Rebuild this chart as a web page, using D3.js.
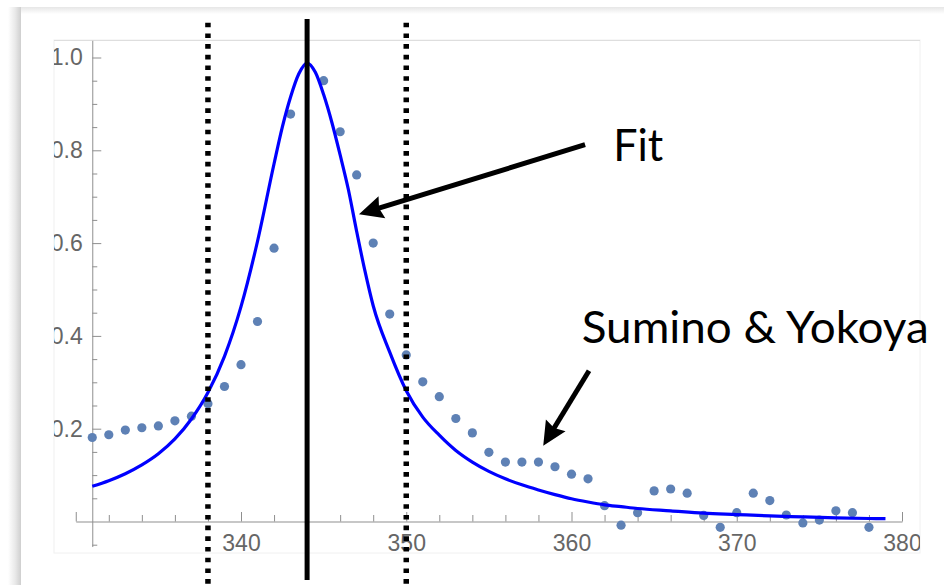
<!DOCTYPE html>
<html>
<head>
<meta charset="utf-8">
<script src="https://cdn.jsdelivr.net/npm/d3@7"></script>
<style>
  html, body { margin: 0; padding: 0; background: #ffffff; }
  svg { display: block; }
</style>
</head>
<body>
<svg id="chart" width="944" height="585"></svg>
<script>
// Measured absorbance points (Sumino & Yokoya), wavelength in nm
const dataX = [331,332,333,334,335,336,337,338,339,340,341,342,343,
  345,346,347,348,349,350,351,352,353,354,355,356,357,358,359,360,361,362,
  363,364,365,366,367,368,369,370,371,372,373,374,375,376,377,378];
const dataY = [0.181,0.187,0.197,0.202,0.206,0.217,0.227,0.254,0.291,0.338,0.431,0.589,0.878,
  0.950,0.840,0.747,0.600,0.447,0.359,0.301,0.269,0.222,0.191,0.149,0.128,0.128,0.128,0.118,0.102,0.092,0.034,
  -0.008,0.019,0.066,0.070,0.061,0.013,-0.0125,0.019,0.061,0.045,0.014,-0.003,0.003,0.023,0.019,-0.0125];

// Fitted peak profile
const fitX = [331,332,333,334,335,336,337,338,339,340,341,342,
  342.5,343,343.5,344,344.5,345,345.5,346,346.5,347,347.5,348,
  349,350,351,352,353,354,355,356,357,358,359,360,361,362,363,364,
  366,368,370,372,374,376,378,379];
const fitY = [0.076,0.088,0.103,0.122,0.146,0.178,0.221,0.278,0.356,0.463,0.604,0.771,
  0.85,0.915,0.965,0.988,0.968,0.92,0.86,0.79,0.715,0.625,0.54,0.465,
  0.365,0.282,0.225,0.186,0.153,0.128,0.108,0.092,0.079,0.068,0.058,0.049,0.042,0.036,0.032,0.028,
  0.023,0.018,0.015,0.012,0.010,0.008,0.0065,0.006];

// Peak centre and window markers
const centreLine = [344];
const windowLines = [338, 350];

// Tick values
const xMajorTicks = [330, 340, 350, 360, 370, 380];
const xMinorTicks = [332,334,336,338,342,344,346,348,352,354,356,358,362,364,366,368,372,374,376,378];
const yMajorTicks = [0.2, 0.4, 0.6, 0.8, 1.0];
const yMinorTicks = [-0.05,0.05,0.1,0.15,0.25,0.3,0.35,0.45,0.5,0.55,0.65,0.7,0.75,0.85,0.9,0.95];

// Callouts: label, label anchor, arrow tail, arrow tip (data units)
const calloutLabels = ["Fit", "Sumino & Yokoya"];
const calloutText = [[362.53, 0.7765], [360.62, 0.384]];
const calloutTail = [[360.82, 0.812], [361.06, 0.325]];
const calloutTip = [[347.14, 0.662], [358.29, 0.163]];
const calloutWidth = [50, 347];

const svg = d3.select("#chart");
const W = 944, H = 585;

// ---- slide panel with soft shadow on the top/left edge ----
const defs = svg.append("defs");
const gl = defs.append("linearGradient").attr("id", "shadowLeft").attr("x1", 0).attr("x2", 1).attr("y1", 0).attr("y2", 0);
gl.append("stop").attr("offset", "0%").attr("stop-color", "#ffffff");
gl.append("stop").attr("offset", "55%").attr("stop-color", "#e9e9e9");
gl.append("stop").attr("offset", "100%").attr("stop-color", "#cfcfcf");
const gt = defs.append("linearGradient").attr("id", "shadowTop").attr("x1", 0).attr("x2", 0).attr("y1", 0).attr("y2", 1);
gt.append("stop").attr("offset", "0%").attr("stop-color", "#e6e6e6");
gt.append("stop").attr("offset", "100%").attr("stop-color", "#ffffff");

svg.append("rect").attr("x", 0).attr("y", 0).attr("width", W).attr("height", H).attr("fill", "#ffffff");
svg.append("rect").attr("x", 8).attr("y", 7).attr("width", 13).attr("height", H - 7).attr("fill", "url(#shadowLeft)");
svg.append("rect").attr("x", 21).attr("y", 7).attr("width", W - 21).attr("height", 7).attr("fill", "url(#shadowTop)");

// ---- plot frame ----
const frame = { x0: 54, y0: 40, x1: 920, y1: 553 };
svg.append("rect")
  .attr("x", frame.x0).attr("y", frame.y0)
  .attr("width", frame.x1 - frame.x0).attr("height", frame.y1 - frame.y0)
  .attr("fill", "none").attr("stroke", "#f0f0f0").attr("stroke-width", 1);
svg.append("line")
  .attr("x1", frame.x0).attr("x2", frame.x1).attr("y1", frame.y0 + 0.5).attr("y2", frame.y0 + 0.5)
  .attr("stroke", "#dedede").attr("stroke-width", 1);

defs.append("clipPath").attr("id", "frameClip")
  .append("rect").attr("x", frame.x0).attr("y", frame.y0)
  .attr("width", frame.x1 - frame.x0).attr("height", frame.y1 - frame.y0);

// ---- scales ----
const x = d3.scaleLinear().domain([340, 380]).range([241, 902]);
const y = d3.scaleLinear().domain([0, 1]).range([521.5, 57.5]);

const axisColor = "#8f8f8f";
const labelColor = "#666666";
const tickFont = "'Liberation Sans', Arial, Helvetica, sans-serif";

const axes = svg.append("g").attr("clip-path", "url(#frameClip)");

// x axis (ticks point inward/up)
const xAxisScale = x.copy().domain([330, 380]).range([x(330), x(380)]);
const xMajor = axes.append("g")
  .attr("transform", `translate(0,${y(0)})`)
  .call(d3.axisBottom(xAxisScale)
    .tickValues(xMajorTicks)
    .tickSizeInner(-9.5).tickSizeOuter(0).tickPadding(13.5)
    .tickFormat(d => d === 330 ? "" : d3.format("d")(d)));
const xMinor = axes.append("g")
  .attr("transform", `translate(0,${y(0)})`)
  .call(d3.axisBottom(xAxisScale)
    .tickValues(xMinorTicks)
    .tickSizeInner(-6.5).tickSizeOuter(0).tickFormat(""));

// y axis, crossing at the first sample wavelength
const yAxisScale = y.copy().domain([-0.054, 1.037]).range([y(-0.054), y(1.037)]);
const yMajor = axes.append("g")
  .attr("transform", `translate(${x(331)},0)`)
  .call(d3.axisLeft(yAxisScale)
    .tickValues(yMajorTicks)
    .tickSizeInner(-9).tickSizeOuter(0).tickPadding(9.5)
    .tickFormat(d3.format(".1f")));
const yMinor = axes.append("g")
  .attr("transform", `translate(${x(331)},0)`)
  .call(d3.axisLeft(yAxisScale)
    .tickValues(yMinorTicks)
    .tickSizeInner(-5).tickSizeOuter(0).tickFormat(""));

[xMajor, xMinor, yMajor, yMinor].forEach(g => {
  g.select(".domain").attr("stroke", axisColor).attr("stroke-width", 1);
  g.selectAll(".tick line").attr("stroke", axisColor).attr("stroke-width", 1);
  g.selectAll(".tick text")
    .attr("fill", labelColor)
    .style("font-family", tickFont)
    .style("font-size", "23px");
});
xMinor.select(".domain").remove();
yMinor.select(".domain").remove();

// ---- measured points ----
const points = dataX.map((d, i) => ({ x: d, y: dataY[i] }));
svg.append("g").selectAll("circle")
  .data(points)
  .join("circle")
  .attr("cx", d => x(d.x))
  .attr("cy", d => y(d.y))
  .attr("r", 4.6)
  .attr("fill", "rgb(94,129,181)");

// ---- fitted curve ----
const fit = fitX.map((d, i) => ({ x: d, y: fitY[i] }));
svg.append("path")
  .datum(fit)
  .attr("fill", "none")
  .attr("stroke", "#0000ff")
  .attr("stroke-width", 3.2)
  .attr("stroke-linejoin", "round")
  .attr("d", d3.line().x(d => x(d.x)).y(d => y(d.y)).curve(d3.curveMonotoneX));

// ---- window (dotted) and centre (solid) markers ----
svg.append("g").selectAll("line")
  .data(windowLines)
  .join("line")
  .attr("x1", d => x(d)).attr("x2", d => x(d))
  .attr("y1", y(1.075)).attr("y2", H)
  .attr("stroke", "#000000")
  .attr("stroke-width", 5.5)
  .attr("stroke-dasharray", "4.6 6.1");

svg.append("g").selectAll("line")
  .data(centreLine)
  .join("line")
  .attr("x1", d => x(d)).attr("x2", d => x(d))
  .attr("y1", y(1.083)).attr("y2", y(-0.126))
  .attr("stroke", "#000000")
  .attr("stroke-width", 5);

// ---- callouts ----
const headLen = 24, headHalf = 11.5;
const callouts = svg.append("g");
calloutLabels.forEach((label, i) => {
  const [tx, ty] = [x(calloutTail[i][0]), y(calloutTail[i][1])];
  const [px, py] = [x(calloutTip[i][0]), y(calloutTip[i][1])];
  const len = Math.hypot(px - tx, py - ty);
  const ux = (px - tx) / len, uy = (py - ty) / len;
  const bx = px - ux * headLen, by = py - uy * headLen;
  callouts.append("line")
    .attr("x1", tx).attr("y1", ty)
    .attr("x2", px - ux * (headLen - 4)).attr("y2", py - uy * (headLen - 4))
    .attr("stroke", "#000").attr("stroke-width", 5);
  callouts.append("path")
    .attr("d", `M${px},${py}L${bx - uy * headHalf},${by + ux * headHalf}L${bx + ux * 3},${by + uy * 3}L${bx + uy * headHalf},${by - ux * headHalf}Z`)
    .attr("fill", "#000");
  callouts.append("text")
    .attr("x", x(calloutText[i][0]))
    .attr("y", y(calloutText[i][1]))
    .attr("textLength", calloutWidth[i])
    .attr("lengthAdjust", "spacingAndGlyphs")
    .style("font-family", "Lato, 'Open Sans', sans-serif")
    .style("font-size", "44px")
    .attr("fill", "#000")
    .text(label);
});
</script>
</body>
</html>
